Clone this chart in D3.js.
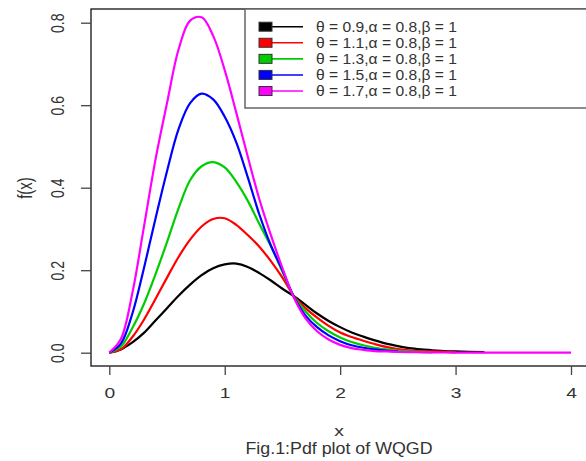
<!DOCTYPE html>
<html><head><meta charset="utf-8">
<script src="https://cdn.jsdelivr.net/npm/d3@7"></script>
<style>body{margin:0;background:#fff} svg{display:block}</style>
</head><body><svg id="c" width="586" height="461"></svg>
<script>
// ---- data ----
const xValues = [0,0.1,0.2,0.3,0.4,0.5,0.6,0.7,0.8,0.9,1.0,1.1,1.2,1.3,1.4,1.5,1.6,1.7,1.8,1.9,2.0,2.1,2.2,2.3,2.4,2.5,2.6,2.7,2.8,2.9,3.0,3.25,3.5,4.0];
const theta09 = [0,0.008,0.025,0.048,0.078,0.108,0.138,0.165,0.188,0.205,0.214,0.216,0.208,0.193,0.175,0.155,0.137,0.116,0.095,0.077,0.062,0.049,0.039,0.030,0.022,0.016,0.011,0.008,0.006,0.004,0.003,0.0015];
const theta11 = [0,0.008,0.038,0.080,0.130,0.182,0.232,0.274,0.306,0.324,0.326,0.310,0.285,0.257,0.222,0.182,0.137,0.108,0.085,0.065,0.049,0.038,0.029,0.021,0.014,0.009,0.006,0.004,0.003,0.002,0.001];
const theta13 = [0,0.015,0.060,0.118,0.190,0.268,0.350,0.418,0.452,0.462,0.449,0.414,0.368,0.312,0.258,0.196,0.136,0.100,0.072,0.052,0.037,0.026,0.018,0.012,0.008,0.005,0.003,0.002,0.001];
const theta15 = [0,0.022,0.095,0.205,0.325,0.440,0.542,0.605,0.628,0.614,0.572,0.510,0.425,0.335,0.260,0.200,0.135,0.090,0.062,0.042,0.028,0.018,0.012,0.008,0.005,0.003];
const theta17 = [0,0.033,0.145,0.305,0.468,0.605,0.735,0.805,0.813,0.768,0.685,0.582,0.475,0.372,0.285,0.205,0.133,0.083,0.052,0.032,0.019,0.011,0.007,0.004,0.003,0.002,0.0015,0.001,0.0008,0.0005,0.0004,0.0002,0.0001,0];
const seriesLabels = ["θ = 0.9,α = 0.8,β = 1","θ = 1.1,α = 0.8,β = 1","θ = 1.3,α = 0.8,β = 1","θ = 1.5,α = 0.8,β = 1","θ = 1.7,α = 0.8,β = 1"];
const seriesColors = ["#000000","#ff0000","#00cd00","#0000ff","#ff00ff"];
const xTicks = [0,1,2,3,4];
const yTicks = [0.0,0.2,0.4,0.6,0.8];
const yTickLabels = ["0.0","0.2","0.4","0.6","0.8"];
const xTitle = "x", yTitle = "f(x)", caption = "Fig.1:Pdf plot of WQGD";

const seriesList = [theta09, theta11, theta13, theta15, theta17];

// ---- layout ----
const svg = d3.select("#c");
const box = {left:91, top:9, right:590, bottom:366};
const x = d3.scaleLinear().domain([0,4]).range([109.3,571]);
const y = d3.scaleLinear().domain([0,0.8]).range([352.7,22.7]);
const SX = 1.33; // horizontal stretch of the original picture
const font = "'Liberation Sans', Arial, sans-serif";

// series
const line = d3.line().x(d=>x(d[0])).y(d=>y(d[1])).curve(d3.curveCatmullRom.alpha(0.5));
seriesList.forEach((s,i)=>{
  const pts = s.map((v,j)=>[xValues[j], v]);
  svg.append("path").attr("d", line(pts)).attr("fill","none")
    .attr("stroke", seriesColors[i]).attr("stroke-width",2.2).attr("stroke-linejoin","round");
});

// plot box
svg.append("rect").attr("x",box.left).attr("y",box.top)
  .attr("width",box.right-box.left).attr("height",box.bottom-box.top)
  .attr("fill","none").attr("stroke","#111").attr("stroke-width",1.3);

// x axis
const gx = svg.append("g").attr("transform",`translate(0,${box.bottom})`)
  .call(d3.axisBottom(x).tickValues(xTicks).tickFormat(d3.format("d")).tickSize(9));
gx.select(".domain").remove();
gx.selectAll(".tick line").attr("stroke","#444").attr("stroke-width",1.3);
gx.selectAll(".tick text").attr("y",27).attr("dy",null).attr("dominant-baseline","central")
  .attr("transform",`scale(${SX},1)`).attr("fill","#333")
  .style("font-family",font).style("font-size","14.5px");

// y axis
const gy = svg.append("g").attr("transform",`translate(${box.left},0)`)
  .call(d3.axisLeft(y).tickValues(yTicks).tickFormat((d,i)=>yTickLabels[i]).tickSize(10));
gy.select(".domain").remove();
gy.selectAll(".tick line").attr("stroke","#444").attr("stroke-width",1.3);
gy.selectAll(".tick text").attr("x",null).attr("dy",null).attr("text-anchor","middle")
  .attr("dominant-baseline","central")
  .attr("transform",`translate(-34,0) scale(${SX},1) rotate(-90)`).attr("fill","#333")
  .style("font-family",font).style("font-size","14px");

// titles
svg.append("text").attr("transform",`translate(339,431) scale(${SX},1)`)
  .attr("text-anchor","middle").attr("dominant-baseline","central")
  .attr("fill","#333").style("font-family",font).style("font-size","14.5px").text(xTitle);
svg.append("text").attr("transform",`translate(25,188) scale(${SX},1) rotate(-90)`)
  .attr("text-anchor","middle").attr("dominant-baseline","central")
  .attr("fill","#333").style("font-family",font).style("font-size","15px").text(yTitle);
svg.append("text").attr("x",339).attr("y",448)
  .attr("text-anchor","middle").attr("dominant-baseline","central")
  .attr("textLength",187).attr("lengthAdjust","spacingAndGlyphs")
  .attr("fill","#333").style("font-family",font).style("font-size","16.5px").text(caption);

// legend
const lg = svg.append("g");
lg.append("rect").attr("x",245).attr("y",9).attr("width",360).attr("height",99)
  .attr("fill","#fff").attr("stroke","#666").attr("stroke-width",1.5);
const rowY = d3.scaleLinear().domain([0,4]).range([26.7,91]);
seriesLabels.forEach((lab,i)=>{
  const cy = rowY(i);
  lg.append("line").attr("x1",270).attr("x2",303).attr("y1",cy).attr("y2",cy)
    .attr("stroke",seriesColors[i]).attr("stroke-width",1.6);
  lg.append("rect").attr("x",259).attr("y",cy-4.5).attr("width",13).attr("height",9)
    .attr("fill",seriesColors[i]).attr("stroke","#333").attr("stroke-width",1);
  lg.append("text").attr("x",316).attr("y",cy).attr("dominant-baseline","central")
    .attr("textLength",141).attr("lengthAdjust","spacingAndGlyphs")
    .attr("fill","#333").style("font-family",font).style("font-size","14px").text(lab);
});
</script></body></html>
